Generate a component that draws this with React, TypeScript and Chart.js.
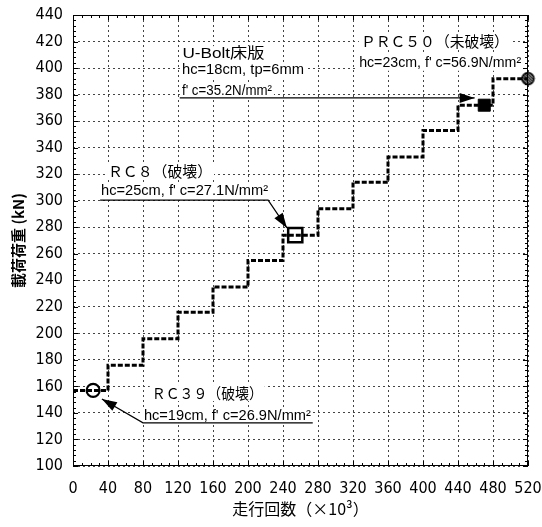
import React, { useEffect, useRef } from 'react';
import { Chart, registerables } from 'chart.js';

Chart.register(...registerables);

// ---- data ----
const stageStartCycles = [0, 40, 80, 120, 160, 200, 240, 280, 320, 360, 400, 440, 480];
const stageLoads = [157, 176, 196, 216, 235, 255, 274, 294, 314, 333, 353, 372, 392];
const testEndCycles = 520;

const specimenNames = ['RC39', 'RC8', 'U-Bolt', 'PRC50'];
const specimenCycles = [23, 254, 470, 520];
const specimenLoads = [157, 274, 372, 392];

const xTickValues = [0, 40, 80, 120, 160, 200, 240, 280, 320, 360, 400, 440, 480, 520];
const yTickValues = [100, 120, 140, 160, 180, 200, 220, 240, 260, 280, 300, 320, 340, 360, 380, 400, 420, 440];

const xAxisTitle = '走行回数（×10³）';
const yAxisTitle = '載荷荷重 (kN)';

const rc39Label = ['ＲＣ３９（破壊）', "hc=19cm, f' c=26.9N/mm²"];
const rc8Label = ['ＲＣ８（破壊）', "hc=25cm, f' c=27.1N/mm²"];
const uboltLabel = ['U-Bolt床版', 'hc=18cm, tp=6mm', "f' c=35.2N/mm²"];
const prc50Label = ['ＰＲＣ５０（未破壊）', "hc=23cm, f' c=56.9N/mm²"];

// ---- helpers ----
const NUM_FONT = '"DejaVu Sans Condensed", "Liberation Sans", Arial, sans-serif';
const LATIN_FONT = '15px "Liberation Sans", "Noto Sans CJK JP", sans-serif';
const CJK_FONT = '15px "Noto Sans CJK JP", sans-serif';

function drawText(ctx: CanvasRenderingContext2D, text: string, x: number, y: number, font: string, width: number) {
  ctx.save();
  ctx.font = font;
  const natural = ctx.measureText(text).width;
  ctx.fillStyle = '#fff';
  ctx.fillRect(x - 2, y - 8, width + 4, 16);
  ctx.translate(x, y);
  ctx.scale(width / natural, 1);
  ctx.fillStyle = '#000';
  ctx.textAlign = 'left';
  ctx.textBaseline = 'middle';
  ctx.fillText(text, 0, 0);
  ctx.restore();
}

function drawArrow(ctx: CanvasRenderingContext2D, pts: number[][]) {
  ctx.save();
  ctx.strokeStyle = '#000';
  ctx.lineWidth = 1.2;
  ctx.beginPath();
  ctx.moveTo(pts[0][0], pts[0][1]);
  for (let i = 1; i < pts.length; i++) ctx.lineTo(pts[i][0], pts[i][1]);
  ctx.stroke();
  const [tx, ty] = pts[pts.length - 1];
  const [fx, fy] = pts[pts.length - 2];
  const ang = Math.atan2(ty - fy, tx - fx);
  const L = 15, W = 5;
  ctx.beginPath();
  ctx.moveTo(tx, ty);
  ctx.lineTo(tx - L * Math.cos(ang) + W * Math.sin(ang), ty - L * Math.sin(ang) - W * Math.cos(ang));
  ctx.lineTo(tx - L * Math.cos(ang) - W * Math.sin(ang), ty - L * Math.sin(ang) + W * Math.cos(ang));
  ctx.closePath();
  ctx.fillStyle = '#000';
  ctx.fill();
  ctx.restore();
}

function makeHatchedCircle(r: number) {
  const c = document.createElement('canvas');
  const s = Math.ceil(r * 2 + 3);
  c.width = s;
  c.height = s;
  const g = c.getContext('2d')!;
  const m = s / 2;
  g.beginPath();
  g.arc(m, m, r, 0, Math.PI * 2);
  g.fillStyle = '#fff';
  g.fill();
  g.save();
  g.clip();
  g.strokeStyle = '#000';
  g.lineWidth = 1.3;
  for (let k = -s; k < 2 * s; k += 2.8) {
    g.beginPath();
    g.moveTo(k, 0);
    g.lineTo(k + s, s);
    g.stroke();
  }
  g.restore();
  g.beginPath();
  g.arc(m, m, r, 0, Math.PI * 2);
  g.lineWidth = 1.5;
  g.strokeStyle = '#000';
  g.stroke();
  return c;
}

const annotationPlugin = {
  id: 'annotations',
  beforeDatasetsDraw(chart: any) {
    const { ctx, scales } = chart;
    const X = (v: number) => scales.x.getPixelForValue(v);
    const Y = (v: number) => scales.y.getPixelForValue(v);

    // U-Bolt
    drawText(ctx, uboltLabel[0], X(125), Y(410.5), LATIN_FONT, 82);
    drawText(ctx, uboltLabel[1], X(124.5), Y(398.5), LATIN_FONT, 122);
    drawText(ctx, uboltLabel[2], X(124.5), Y(383), LATIN_FONT, 90);
    drawArrow(ctx, [[X(122), Y(377.5)], [X(459), Y(377.5)]]);

    // RC8
    drawText(ctx, rc8Label[0], X(40), Y(322.5), CJK_FONT, 104);
    drawText(ctx, rc8Label[1], X(32), Y(307.5), LATIN_FONT, 167);
    drawArrow(ctx, [[X(31), Y(300.5)], [X(223), Y(300.5)], [X(244.5), Y(279.5)]]);

    // RC39
    drawText(ctx, rc39Label[0], X(90), Y(155), CJK_FONT, 111);
    drawText(ctx, rc39Label[1], X(81), Y(137.5), LATIN_FONT, 167);
    drawArrow(ctx, [[X(274), Y(132.5)], [X(80), Y(132.5)], [X(33), Y(150.5)]]);

    // PRC50
    drawText(ctx, prc50Label[0], X(329), Y(420.5), CJK_FONT, 148);
    drawText(ctx, prc50Label[1], X(327), Y(404), LATIN_FONT, 162);
  },
  afterDraw(chart: any) {
    const { ctx, chartArea: a, scales } = chart;
    ctx.save();
    ctx.strokeStyle = '#000';
    ctx.lineWidth = 1;
    ctx.setLineDash([]);
    ctx.strokeRect(Math.round(a.left) + 0.5, Math.round(a.top) + 0.5, Math.round(a.right - a.left) - 1, Math.round(a.bottom - a.top) - 1);
    ctx.beginPath();
    for (let v = 0; v <= 520; v += 10) {
      const px = Math.round(scales.x.getPixelForValue(v)) + 0.5;
      const len = v % 40 === 0 ? 5 : 3;
      ctx.moveTo(px, a.bottom);
      ctx.lineTo(px, a.bottom - len);
      ctx.moveTo(px, a.top);
      ctx.lineTo(px, a.top + len);
    }
    for (let v = 100; v <= 440; v += 4) {
      const py = Math.round(scales.y.getPixelForValue(v)) + 0.5;
      const len = v % 20 === 0 ? 5 : 3;
      ctx.moveTo(a.left, py);
      ctx.lineTo(a.left + len, py);
      ctx.moveTo(a.right, py);
      ctx.lineTo(a.right - len, py);
    }
    ctx.stroke();
    ctx.restore();
  },
};

export default function App() {
  const ref = useRef<HTMLCanvasElement>(null);

  useEffect(() => {
    const hatched = makeHatchedCircle(6);
    const stepData = stageStartCycles.map((x, i) => ({ x, y: stageLoads[i] }));
    stepData.push({ x: testEndCycles, y: stageLoads[stageLoads.length - 1] });

    const pt = (i: number) => [{ x: specimenCycles[i], y: specimenLoads[i] }];

    const chart = new Chart(ref.current!, {
      type: 'scatter',
      data: {
        datasets: [
          {
            label: 'load',
            data: stepData,
            showLine: true,
            stepped: true,
            borderColor: '#000',
            borderWidth: 3,
            borderDash: [5, 2],
            pointRadius: 0,
            fill: false,
          } as any,
          {
            label: specimenNames[0],
            data: pt(0),
            pointStyle: 'circle',
            pointRadius: 6.5,
            pointBackgroundColor: '#fff',
            pointBorderColor: '#000',
            pointBorderWidth: 2.2,
          },
          {
            label: specimenNames[1],
            data: pt(1),
            pointStyle: 'rect',
            pointRadius: 10,
            pointBackgroundColor: '#fff',
            pointBorderColor: '#000',
            pointBorderWidth: 2.5,
          },
          {
            label: specimenNames[2],
            data: pt(2),
            pointStyle: 'rect',
            pointRadius: 8.5,
            pointBackgroundColor: '#000',
            pointBorderColor: '#000',
            pointBorderWidth: 1,
          },
          {
            label: specimenNames[3],
            data: pt(3),
            pointStyle: hatched as any,
            pointRadius: 7,
            clip: false,
          } as any,
        ],
      },
      options: {
        responsive: false,
        animation: false,
        devicePixelRatio: 1,
        layout: { padding: { top: 15, right: 14, left: 0, bottom: 0 } },
        plugins: { legend: { display: false }, tooltip: { enabled: false } },
        scales: {
          x: {
            type: 'linear',
            min: 0,
            max: 520,
            afterBuildTicks: (s: any) => {
              s.ticks = xTickValues.map((value) => ({ value }));
            },
            afterFit: (s: any) => {
              s.height = 61;
              s.paddingLeft = 0;
              s.paddingRight = 0;
            },
            ticks: {
              autoSkip: false,
              maxRotation: 0,
              color: '#000',
              padding: 13,
              font: { family: NUM_FONT, size: 16 },
            },
            grid: { color: '#444', lineWidth: 1, drawTicks: false },
            border: { display: false, dash: [2, 3] },
            title: {
              display: true,
              text: xAxisTitle,
              color: '#000',
              font: { family: '"Noto Sans CJK JP", sans-serif', size: 16 },
              padding: { top: 0, bottom: 8 },
            },
          },
          y: {
            type: 'linear',
            min: 100,
            max: 440,
            afterBuildTicks: (s: any) => {
              s.ticks = yTickValues.map((value) => ({ value }));
            },
            afterFit: (s: any) => {
              s.width = 73;
              s.paddingTop = 0;
              s.paddingBottom = 0;
            },
            ticks: {
              autoSkip: false,
              color: '#000',
              padding: 10,
              font: { family: NUM_FONT, size: 16 },
            },
            grid: { color: '#444', lineWidth: 1, drawTicks: false },
            border: { display: false, dash: [2, 3] },
            title: {
              display: true,
              text: yAxisTitle,
              color: '#000',
              font: { family: '"Noto Sans CJK JP", sans-serif', size: 15, weight: 'bold' },
              padding: { top: 9, bottom: 0 },
            },
          },
        },
      },
      plugins: [annotationPlugin],
    } as any);
    return () => chart.destroy();
  }, []);

  return (
    <div style={{ position: 'fixed', left: 0, top: 0, width: 542, height: 527, background: '#fff' }}>
      <canvas ref={ref} width={542} height={527} style={{ display: 'block', width: 542, height: 527 }} />
    </div>
  );
}
